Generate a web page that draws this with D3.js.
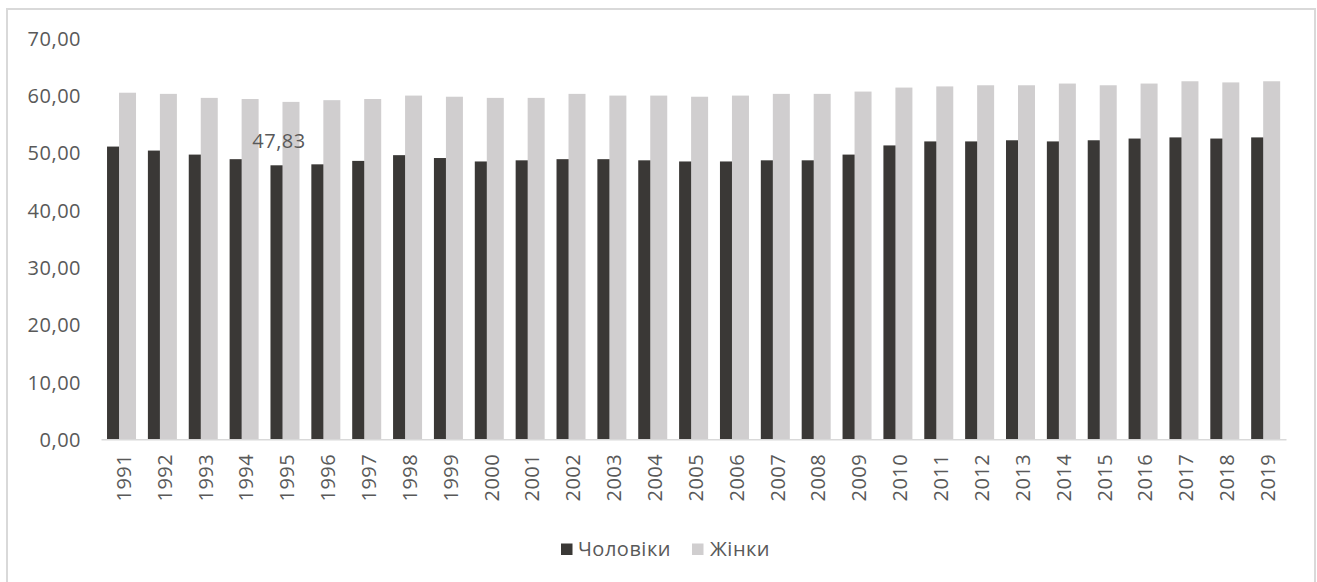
<!DOCTYPE html>
<html>
<head>
<meta charset="utf-8">
<script src="https://cdn.jsdelivr.net/npm/d3@7"></script>
<style>
  html, body { margin: 0; padding: 0; background: #fff; }
  svg { display: block; }
  text { font-family: "Open Sans", "Noto Sans", sans-serif; fill: #595959; }
</style>
</head>
<body>
<svg id="chart" width="1317" height="582"></svg>
<script>
const years = ["1991","1992","1993","1994","1995","1996","1997","1998","1999","2000",
  "2001","2002","2003","2004","2005","2006","2007","2008","2009","2010",
  "2011","2012","2013","2014","2015","2016","2017","2018","2019"];
const men = [51.1, 50.4, 49.7, 48.9, 47.83, 48.0, 48.6, 49.6, 49.1, 48.5,
  48.7, 48.9, 48.9, 48.7, 48.5, 48.5, 48.7, 48.7, 49.7, 51.3,
  52.0, 52.0, 52.2, 52.0, 52.2, 52.5, 52.7, 52.5, 52.7];
const women = [60.5, 60.3, 59.6, 59.4, 58.9, 59.2, 59.4, 60.0, 59.8, 59.6,
  59.6, 60.3, 60.0, 60.0, 59.8, 60.0, 60.3, 60.3, 60.7, 61.4,
  61.6, 61.8, 61.8, 62.1, 61.8, 62.1, 62.5, 62.3, 62.5];
const yTicks = [0, 10, 20, 30, 40, 50, 60, 70];
const seriesNames = ["Чоловіки", "Жінки"];
const seriesColors = ["#3a3836", "#d0cecf"];
const labelledIndex = 4; // 1995 data label

const FONT = "20px";
const LS = "0.5px";
const svg = d3.select("#chart");

// chart border
svg.append("rect")
  .attr("x", 7).attr("y", 9).attr("width", 1308).attr("height", 590)
  .attr("fill", "none").attr("stroke", "#d9d9d9").attr("stroke-width", 2);

const x = d3.scaleBand().domain(years).range([101, 1286]).padding(0);
const y = d3.scaleLinear().domain([0, 70]).range([439.3, 38.3]);
const bw = x.bandwidth();
const barW = 17;
const center = d => x(d) + bw / 2;

// y axis labels (no line)
const yAxis = d3.axisLeft(y).tickValues(yTicks).tickSize(0).tickPadding(0)
  .tickFormat(d => d3.format(".2f")(d).replace(".", ","));
const gy = svg.append("g").attr("transform", "translate(81,0)").call(yAxis);
gy.select(".domain").remove();
gy.selectAll("text").style("font-size", FONT).style("letter-spacing", LS).attr("fill", "#595959")
  .style("font-family", "\"Open Sans\", sans-serif").attr("dy", "0.35em");

// bars: men first, women drawn on top with overlap
svg.append("g").selectAll("rect").data(years).join("rect")
  .attr("x", (d) => center(d) - 14.4)
  .attr("y", (d, i) => y(men[i]))
  .attr("width", barW)
  .attr("height", (d, i) => y(0) - y(men[i]))
  .attr("fill", seriesColors[0]);

svg.append("g").selectAll("rect").data(years).join("rect")
  .attr("x", (d) => center(d) - 2.4)
  .attr("y", (d, i) => y(women[i]))
  .attr("width", barW)
  .attr("height", (d, i) => y(0) - y(women[i]))
  .attr("fill", seriesColors[1]);

// x axis
const xAxis = d3.axisBottom(x).tickSize(0).tickPadding(0);
const gx = svg.append("g").attr("transform", `translate(0,${y(0)})`).call(xAxis);
gx.select(".domain").attr("stroke", "#d9d9d9").attr("stroke-width", 1.5);
gx.selectAll("text")
  .style("font-size", FONT)
  .style("letter-spacing", LS)
  .style("font-family", "\"Open Sans\", sans-serif")
  .attr("fill", "#595959")
  .attr("text-anchor", "end")
  .attr("transform", "translate(2.4,14.5) rotate(-90)")
  .attr("x", 0).attr("y", 0).attr("dy", "0.35em");

// data label
svg.append("text")
  .attr("x", center(years[labelledIndex]) - 5.9)
  .attr("y", y(men[labelledIndex]) - 17.6)
  .attr("text-anchor", "middle")
  .style("font-size", FONT)
  .style("letter-spacing", LS)
  .text(d3.format(".2f")(men[labelledIndex]).replace(".", ","));

// legend
const legend = svg.append("g");
const legendItems = [{sx: 561, tx: 578}, {sx: 692, tx: 710}];
seriesNames.forEach((name, i) => {
  legend.append("rect")
    .attr("x", legendItems[i].sx).attr("y", 543.5)
    .attr("width", 11.5).attr("height", 11.5)
    .attr("fill", seriesColors[i]);
  legend.append("text")
    .attr("x", legendItems[i].tx).attr("y", 556)
    .style("font-size", FONT)
    .style("letter-spacing", LS)
    .text(name);
});
</script>
</body>
</html>
